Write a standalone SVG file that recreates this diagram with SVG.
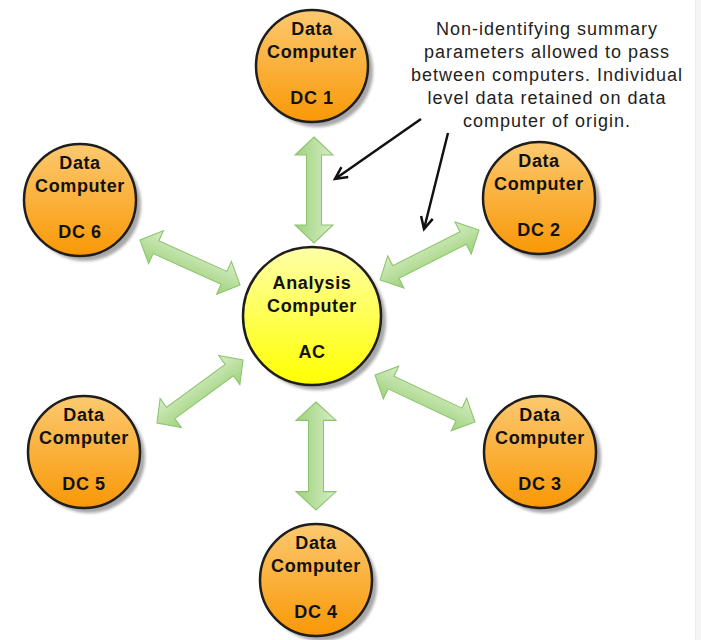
<svg xmlns="http://www.w3.org/2000/svg" width="701" height="640" viewBox="0 0 701 640">
  <style>
    .lbl { font-family: "Liberation Sans", Arial, sans-serif; font-weight: bold; font-size: 18px; letter-spacing: 0.6px; fill: #111; text-anchor: middle; }
    .note { font-family: "Liberation Sans", Arial, sans-serif; font-size: 18px; letter-spacing: 1px; fill: #222; text-anchor: middle; }
    .ring { stroke: #1e1e1e; stroke-width: 2.5; }
    .shadow { fill: #8a8a8a; opacity: 0.75; filter: url(#blur); }
    .garrow { fill: url(#gg); stroke: #8cc46c; stroke-width: 1; }
    .pointer { fill: none; stroke: #111; stroke-width: 2.5; marker-end: url(#vhead); }
  </style>
  <defs>
    <linearGradient id="og" x1="0" y1="0" x2="0" y2="1">
      <stop offset="0" stop-color="#fcc970"/>
      <stop offset="1" stop-color="#f99806"/>
    </linearGradient>
    <linearGradient id="yg" x1="0" y1="0" x2="0" y2="1">
      <stop offset="0" stop-color="#ffffa8"/>
      <stop offset="1" stop-color="#ffff00"/>
    </linearGradient>
    <linearGradient id="gg" x1="0" y1="0" x2="0" y2="1">
      <stop offset="0" stop-color="#d6edc6"/>
      <stop offset="1" stop-color="#9fd27c"/>
    </linearGradient>
    <filter id="blur" x="-20%" y="-20%" width="140%" height="140%">
      <feGaussianBlur stdDeviation="1.5"/>
    </filter>
    <marker id="vhead" markerUnits="userSpaceOnUse" markerWidth="16" markerHeight="16" refX="13" refY="7" orient="auto" viewBox="0 0 16 14">
      <path d="M1,1 L13,7 L1,13" fill="none" stroke="#111" stroke-width="2.5"/>
    </marker>
    <path id="dbl" d="M-50,0 L-32,-19 L-32,-7.5 L32,-7.5 L32,-19 L50,0 L32,19 L32,7.5 L-32,7.5 L-32,19 Z"/>
  </defs>

  <rect x="0" y="0" width="701" height="640" fill="#ffffff"/>
  <rect x="695" y="0" width="6" height="640" fill="#f5f5f5"/>
  <line x1="695.5" y1="0" x2="695.5" y2="640" stroke="#ececec" stroke-width="1"/>

  <g id="connectors">
    <path class="garrow" transform="translate(314,190) rotate(90) scale(1.06,1)" d="M-50,0 L-33,-19 L-33,-7.5 L33,-7.5 L33,-19 L50,0 L33,19 L33,7.5 L-33,7.5 L-33,19 Z"/>
    <path class="garrow" transform="translate(316,456) rotate(90) scale(1.08,1)" d="M-50,0 L-33,-20 L-33,-7.5 L33,-7.5 L33,-20 L50,0 L33,20 L33,7.5 L-33,7.5 L-33,20 Z"/>
    <path class="garrow" transform="translate(190,262.5) rotate(24.2) scale(1.097,1)" d="M-50,0 L-34,-18 L-34,-7 L34,-7 L34,-18 L50,0 L34,18 L34,7 L-34,7 L-34,18 Z"/>
    <path class="garrow" transform="translate(429.5,255) rotate(-26.8) scale(1.109,1)" d="M-50,0 L-34,-18 L-34,-7 L34,-7 L34,-18 L50,0 L34,18 L34,7 L-34,7 L-34,18 Z"/>
    <path class="garrow" transform="translate(200,391.5) rotate(-36.2) scale(1.066,1)" d="M-50,0 L-34,-18 L-34,-7 L34,-7 L34,-18 L50,0 L34,18 L34,7 L-34,7 L-34,18 Z"/>
    <path class="garrow" transform="translate(425,398.5) rotate(25.2) scale(1.105,1)" d="M-50,0 L-34,-18 L-34,-7 L34,-7 L34,-18 L50,0 L34,18 L34,7 L-34,7 L-34,18 Z"/>
    <line class="pointer" x1="421" y1="119" x2="335" y2="179"/>
    <line class="pointer" x1="448" y1="133" x2="424" y2="229"/>
  </g>

  <g id="note">
    <text class="note" x="547" y="35">Non-identifying summary</text>
    <text class="note" x="547" y="58">parameters allowed to pass</text>
    <text class="note" x="547" y="81">between computers. Individual</text>
    <text class="note" x="547" y="104">level data retained on data</text>
    <text class="note" x="547" y="127">computer of origin.</text>
  </g>

  <g id="AC">
    <circle class="shadow" cx="317" cy="321" r="69"/>
    <circle class="ring" cx="312" cy="316" r="69" fill="url(#yg)"/>
    <text class="lbl" x="312" y="289">Analysis</text>
    <text class="lbl" x="312" y="312">Computer</text>
    <text class="lbl" x="312" y="358">AC</text>
  </g>

  <g id="DC1">
    <circle class="shadow" cx="317" cy="71" r="56"/>
    <circle class="ring" cx="312" cy="66" r="56" fill="url(#og)"/>
    <text class="lbl" x="312" y="35">Data</text>
    <text class="lbl" x="312" y="58">Computer</text>
    <text class="lbl" x="312" y="104">DC 1</text>
  </g>

  <g id="DC2">
    <circle class="shadow" cx="544" cy="203" r="56"/>
    <circle class="ring" cx="539" cy="198" r="56" fill="url(#og)"/>
    <text class="lbl" x="539" y="167">Data</text>
    <text class="lbl" x="539" y="190">Computer</text>
    <text class="lbl" x="539" y="236">DC 2</text>
  </g>

  <g id="DC3">
    <circle class="shadow" cx="545" cy="457" r="56"/>
    <circle class="ring" cx="540" cy="452" r="56" fill="url(#og)"/>
    <text class="lbl" x="540" y="421">Data</text>
    <text class="lbl" x="540" y="444">Computer</text>
    <text class="lbl" x="540" y="490">DC 3</text>
  </g>

  <g id="DC4">
    <circle class="shadow" cx="321" cy="585" r="56"/>
    <circle class="ring" cx="316" cy="580" r="56" fill="url(#og)"/>
    <text class="lbl" x="316" y="549">Data</text>
    <text class="lbl" x="316" y="572">Computer</text>
    <text class="lbl" x="316" y="618">DC 4</text>
  </g>

  <g id="DC5">
    <circle class="shadow" cx="89" cy="457" r="56"/>
    <circle class="ring" cx="84" cy="452" r="56" fill="url(#og)"/>
    <text class="lbl" x="84" y="421">Data</text>
    <text class="lbl" x="84" y="444">Computer</text>
    <text class="lbl" x="84" y="490">DC 5</text>
  </g>

  <g id="DC6">
    <circle class="shadow" cx="85" cy="205" r="56"/>
    <circle class="ring" cx="80" cy="200" r="56" fill="url(#og)"/>
    <text class="lbl" x="80" y="169">Data</text>
    <text class="lbl" x="80" y="192">Computer</text>
    <text class="lbl" x="80" y="238">DC 6</text>
  </g>
</svg>
